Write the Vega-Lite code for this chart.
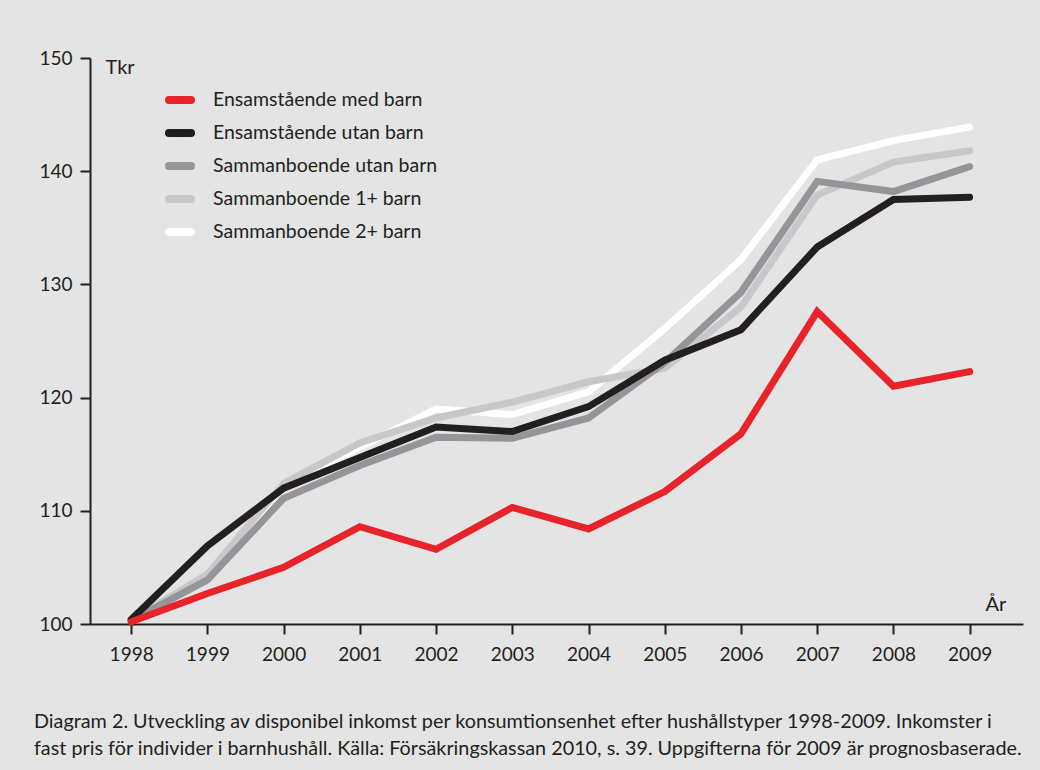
{
  "$schema": "https://vega.github.io/schema/vega-lite/v6.json",
  "autosize": {"type": "none"},
  "width": 933,
  "height": 566,
  "padding": {"left": 90, "top": 58, "right": 17, "bottom": 146},
  "background": "#e4e4e4",
  "config": {
    "view": {"stroke": null},
    "font": "Lato",
    "axis": {"labelFont": "Lato", "titleFont": "Lato", "grid": false}
  },
  "title": {
    "text": ["Diagram 2. Utveckling av disponibel inkomst per konsumtionsenhet efter hushållstyper 1998-2009. Inkomster i", "fast pris för individer i barnhushåll. Källa: Försäkringskassan 2010, s. 39. Uppgifterna för 2009 är prognosbaserade."],
    "orient": "bottom",
    "anchor": "start",
    "frame": "group",
    "dx": -56,
    "offset": 48,
    "font": "Lato",
    "fontSize": 19.8,
    "fontWeight": "normal",
    "color": "#231f20",
    "lineHeight": 27
  },
  "data": {
    "values": [
      {"year": 1998, "series": "Sammanboende 2+ barn", "value": 100.3},
      {"year": 1999, "series": "Sammanboende 2+ barn", "value": 104.2},
      {"year": 2000, "series": "Sammanboende 2+ barn", "value": 112.3},
      {"year": 2001, "series": "Sammanboende 2+ barn", "value": 115.6},
      {"year": 2002, "series": "Sammanboende 2+ barn", "value": 119.0},
      {"year": 2003, "series": "Sammanboende 2+ barn", "value": 118.5},
      {"year": 2004, "series": "Sammanboende 2+ barn", "value": 120.5},
      {"year": 2005, "series": "Sammanboende 2+ barn", "value": 126.1},
      {"year": 2006, "series": "Sammanboende 2+ barn", "value": 132.2},
      {"year": 2007, "series": "Sammanboende 2+ barn", "value": 141.0},
      {"year": 2008, "series": "Sammanboende 2+ barn", "value": 142.7},
      {"year": 2009, "series": "Sammanboende 2+ barn", "value": 143.9},
      {"year": 1998, "series": "Sammanboende 1+ barn", "value": 100.3},
      {"year": 1999, "series": "Sammanboende 1+ barn", "value": 104.4},
      {"year": 2000, "series": "Sammanboende 1+ barn", "value": 112.4},
      {"year": 2001, "series": "Sammanboende 1+ barn", "value": 116.0},
      {"year": 2002, "series": "Sammanboende 1+ barn", "value": 118.2},
      {"year": 2003, "series": "Sammanboende 1+ barn", "value": 119.6},
      {"year": 2004, "series": "Sammanboende 1+ barn", "value": 121.4},
      {"year": 2005, "series": "Sammanboende 1+ barn", "value": 122.6},
      {"year": 2006, "series": "Sammanboende 1+ barn", "value": 128.0},
      {"year": 2007, "series": "Sammanboende 1+ barn", "value": 137.9},
      {"year": 2008, "series": "Sammanboende 1+ barn", "value": 140.8},
      {"year": 2009, "series": "Sammanboende 1+ barn", "value": 141.8},
      {"year": 1998, "series": "Sammanboende utan barn", "value": 100.3},
      {"year": 1999, "series": "Sammanboende utan barn", "value": 103.9},
      {"year": 2000, "series": "Sammanboende utan barn", "value": 111.1},
      {"year": 2001, "series": "Sammanboende utan barn", "value": 114.0},
      {"year": 2002, "series": "Sammanboende utan barn", "value": 116.5},
      {"year": 2003, "series": "Sammanboende utan barn", "value": 116.4},
      {"year": 2004, "series": "Sammanboende utan barn", "value": 118.2},
      {"year": 2005, "series": "Sammanboende utan barn", "value": 123.1},
      {"year": 2006, "series": "Sammanboende utan barn", "value": 129.3},
      {"year": 2007, "series": "Sammanboende utan barn", "value": 139.1},
      {"year": 2008, "series": "Sammanboende utan barn", "value": 138.2},
      {"year": 2009, "series": "Sammanboende utan barn", "value": 140.4},
      {"year": 1998, "series": "Ensamstående utan barn", "value": 100.4},
      {"year": 1999, "series": "Ensamstående utan barn", "value": 106.9},
      {"year": 2000, "series": "Ensamstående utan barn", "value": 112.0},
      {"year": 2001, "series": "Ensamstående utan barn", "value": 114.7},
      {"year": 2002, "series": "Ensamstående utan barn", "value": 117.4},
      {"year": 2003, "series": "Ensamstående utan barn", "value": 117.0},
      {"year": 2004, "series": "Ensamstående utan barn", "value": 119.2},
      {"year": 2005, "series": "Ensamstående utan barn", "value": 123.3},
      {"year": 2006, "series": "Ensamstående utan barn", "value": 126.0},
      {"year": 2007, "series": "Ensamstående utan barn", "value": 133.3},
      {"year": 2008, "series": "Ensamstående utan barn", "value": 137.5},
      {"year": 2009, "series": "Ensamstående utan barn", "value": 137.7},
      {"year": 1998, "series": "Ensamstående med barn", "value": 100.2},
      {"year": 1999, "series": "Ensamstående med barn", "value": 102.7},
      {"year": 2000, "series": "Ensamstående med barn", "value": 105.0},
      {"year": 2001, "series": "Ensamstående med barn", "value": 108.6},
      {"year": 2002, "series": "Ensamstående med barn", "value": 106.6},
      {"year": 2003, "series": "Ensamstående med barn", "value": 110.3},
      {"year": 2004, "series": "Ensamstående med barn", "value": 108.4},
      {"year": 2005, "series": "Ensamstående med barn", "value": 111.7},
      {"year": 2006, "series": "Ensamstående med barn", "value": 116.8},
      {"year": 2007, "series": "Ensamstående med barn", "value": 127.6},
      {"year": 2008, "series": "Ensamstående med barn", "value": 121.0},
      {"year": 2009, "series": "Ensamstående med barn", "value": 122.3}
    ]
  },
  "mark": {"type": "line", "strokeWidth": 7, "strokeCap": "round", "strokeJoin": "miter"},
  "encoding": {
    "x": {
      "field": "year",
      "type": "quantitative",
      "scale": {"domain": [1997.46, 2009.7], "nice": false, "zero": false},
      "axis": {
        "values": [1998, 1999, 2000, 2001, 2002, 2003, 2004, 2005, 2006, 2007, 2008, 2009],
        "format": "d",
        "title": "År",
        "titleX": 895,
        "titleY": -20,
        "titleAlign": "left",
        "titleBaseline": "middle",
        "titleFontSize": 20,
        "titleFontWeight": "normal",
        "titleColor": "#231f20",
        "labelFontSize": 19,
        "labelColor": "#231f20",
        "labelPadding": 11,
        "tickSize": 10,
        "tickWidth": 2,
        "tickColor": "#231f20",
        "domainColor": "#231f20",
        "domainWidth": 2
      }
    },
    "y": {
      "field": "value",
      "type": "quantitative",
      "scale": {"domain": [100, 150], "nice": false, "zero": false},
      "axis": {
        "values": [100, 110, 120, 130, 140, 150],
        "title": "Tkr",
        "titleAngle": 0,
        "titleX": 15,
        "titleY": 9,
        "titleAlign": "left",
        "titleBaseline": "middle",
        "titleFontSize": 20,
        "titleFontWeight": "normal",
        "titleColor": "#231f20",
        "labelFontSize": 19,
        "labelColor": "#231f20",
        "labelPadding": 8,
        "tickSize": 10,
        "tickWidth": 2,
        "tickColor": "#231f20",
        "domainColor": "#231f20",
        "domainWidth": 2
      }
    },
    "color": {
      "field": "series",
      "type": "nominal",
      "sort": null,
      "scale": {
        "domain": ["Ensamstående med barn", "Ensamstående utan barn", "Sammanboende utan barn", "Sammanboende 1+ barn", "Sammanboende 2+ barn"],
        "range": ["#e8232a", "#231f20", "#939598", "#c7c8ca", "#ffffff"]
      },
      "legend": {
        "orient": "none",
        "legendX": 75,
        "legendY": 27,
        "title": null,
        "symbolType": "stroke",
        "symbolSize": 484,
        "symbolStrokeWidth": 8,
        "labelFontSize": 19.5,
        "labelColor": "#231f20",
        "labelFont": "Lato",
        "labelLimit": 0,
        "labelOffset": 18,
        "rowPadding": 1,
        "encode": {"symbols": {"update": {"strokeCap": {"value": "round"}}}}
      }
    }
  }
}
